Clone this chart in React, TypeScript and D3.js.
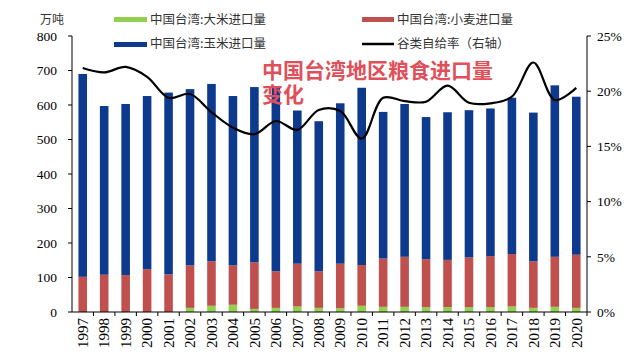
import * as React from 'react';
import * as d3 from 'd3';

// years on the x axis
const years = [
  '1997', '1998', '1999', '2000', '2001', '2002', '2003', '2004', '2005', '2006', '2007', '2008',
  '2009', '2010', '2011', '2012', '2013', '2014', '2015', '2016', '2017', '2018', '2019', '2020',
];

// 万吨
const rice = [0, 0, 0, 0, 0, 12, 18, 21, 9, 12, 16, 12, 11, 18, 15, 15, 14, 14, 14, 14, 16, 12, 15, 12];
const wheat = [102, 108, 107, 124, 109, 123, 129, 114, 135, 106, 124, 106, 129, 118, 140, 145, 139, 137, 144, 148, 152, 135, 145, 154];
const corn = [588, 489, 496, 502, 527, 511, 514, 491, 508, 532, 444, 435, 465, 514, 425, 443, 412, 428, 427, 428, 453, 431, 497, 458];

// 谷类自给率 (%)
const selfRate = [22.1, 21.7, 22.2, 21.3, 19.4, 19.75, 18.1, 16.7, 16.1, 17.3, 16.5, 18.3,
  18.2, 15.7, 19.4, 19.1, 19.05, 20.5, 18.95, 18.9, 19.5, 22.6, 19.2, 20.3];

const leftTicks = [0, 100, 200, 300, 400, 500, 600, 700, 800];
const rightTicks = [0, 5, 10, 15, 20, 25];

const colors = { rice: '#92d050', wheat: '#c0504d', corn: '#0e3a8e' };
const serif = '"Liberation Serif", "Times New Roman", serif';
const cjk = '"Noto Sans CJK SC", sans-serif';

export default function App() {
  const width = 640;
  const height = 361;
  const margin = { top: 36, right: 53, bottom: 49, left: 72 };

  const x = d3.scaleBand<string>()
    .domain(years)
    .range([margin.left, width - margin.right])
    .paddingInner(0.6)
    .paddingOuter(0.3);
  const y = d3.scaleLinear().domain([0, 800]).range([height - margin.bottom, margin.top]);
  const y2 = d3.scaleLinear().domain([0, 25]).range([height - margin.bottom, margin.top]);

  const rows = years.map((yr, i) => ({ year: yr, rice: rice[i], wheat: wheat[i], corn: corn[i] }));
  const series = d3.stack<any>().keys(['rice', 'wheat', 'corn'])(rows);

  const line = d3.line<number>()
    .x((_, i) => (x(years[i]) as number) + x.bandwidth() / 2)
    .y((d) => y2(d))
    .curve(d3.curveCatmullRom.alpha(0.5));

  const step = x.step();
  const base = y(0);
  const x0 = margin.left;
  const x1 = width - margin.right;

  return (
    <svg width={width} height={height} style={{ position: 'absolute', left: 0, top: 0, background: '#fff' }}>
      {/* bars */}
      {series.map((s) => (
        <g key={s.key} fill={(colors as any)[s.key]}>
          {s.map((d, i) => (
            <rect key={i} x={x(years[i])} width={x.bandwidth()} y={y(d[1])} height={Math.max(0, y(d[0]) - y(d[1]))} />
          ))}
        </g>
      ))}

      {/* left axis */}
      <line x1={x0} x2={x0} y1={y(800)} y2={base} stroke="#000" />
      {leftTicks.map((t) => (
        <g key={t}>
          <line x1={x0 - 4} x2={x0} y1={y(t)} y2={y(t)} stroke="#000" />
          <text x={x0 - 15} y={y(t)} dy="0.35em" textAnchor="end" fontFamily={serif} fontSize={13.5}>{t}</text>
        </g>
      ))}
      <text x={40} y={24} fontFamily={cjk} fontSize={12} fill="#333">万吨</text>

      {/* right axis */}
      <line x1={x1} x2={x1} y1={y2(25)} y2={base} stroke="#000" />
      {rightTicks.map((t) => (
        <g key={t}>
          <line x1={x1} x2={x1 + 4} y1={y2(t)} y2={y2(t)} stroke="#000" />
          <text x={x1 + 10} y={y2(t)} dy="0.35em" fontFamily={serif} fontSize={13.5}>{t}%</text>
        </g>
      ))}

      {/* x axis */}
      <line x1={x0} x2={x1} y1={base} y2={base} stroke="#000" />
      {years.map((yr) => {
        const bx = (x(yr) as number) + x.bandwidth() / 2;
        return (
          <g key={yr}>
            <line x1={bx + step / 2} x2={bx + step / 2} y1={base} y2={base + 4} stroke="#000" />
            <text transform={`translate(${bx},${base + 6}) rotate(-90)`} dy="0.35em" textAnchor="end"
              fontFamily={serif} fontSize={15}>{yr}</text>
          </g>
        );
      })}

      {/* self-sufficiency line */}
      <path d={line(selfRate) ?? ''} fill="none" stroke="#000" strokeWidth={2.2} />

      {/* legend */}
      <g fontFamily={cjk} fontSize={12.5} fill="#333">
        <rect x={114} y={17} width={33} height={5} fill={colors.rice} />
        <text x={150} y={20} dy="0.35em">中国台湾:大米进口量</text>
        <rect x={362} y={17} width={32} height={5} fill={colors.wheat} />
        <text x={397} y={20} dy="0.35em">中国台湾:小麦进口量</text>
        <rect x={114} y={42} width={33} height={5} fill={colors.corn} />
        <text x={150} y={44} dy="0.35em">中国台湾:玉米进口量</text>
        <line x1={362} x2={394} y1={44} y2={44} stroke="#000" strokeWidth={2.5} />
        <text x={397} y={44} dy="0.35em">谷类自给率（右轴）</text>
      </g>

      {/* overlay title */}
      <g fontFamily={cjk} fontSize={21} fontWeight={700} fill="#e0505a">
        <text x={262} y={78}>中国台湾地区粮食进口量</text>
        <text x={262} y={102}>变化</text>
      </g>
    </svg>
  );
}
